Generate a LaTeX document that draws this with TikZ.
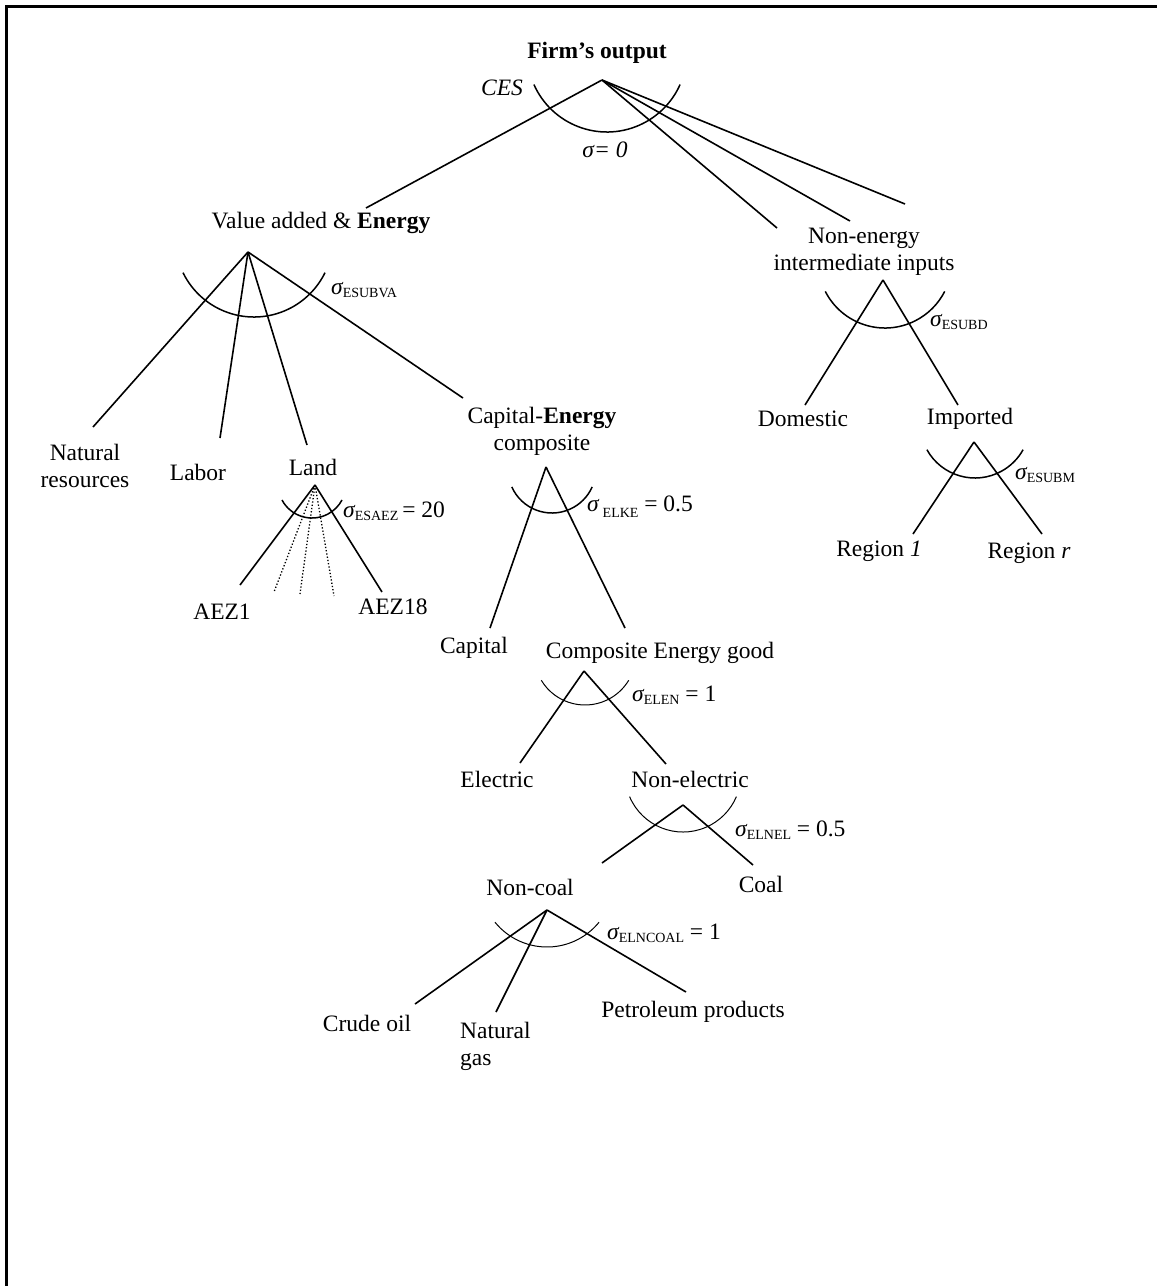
\documentclass[tikz,border=0pt]{standalone}
\usepackage{fontspec}
\setmainfont{Liberation Serif}
\tikzset{
  lbl/.style={inner sep=0pt, font=\fontsize{23.5}{27}\selectfont, align=center},
  sglbl/.style={inner sep=0pt, anchor=west, font=\fontsize{23.5}{27}\selectfont},
  br/.style={line width=1.6pt},
  cesarcst/.style={line width=1.5pt},
  thinarc/.style={line width=1pt},
  dotbr/.style={dotted, line width=1.3pt}
}
\newcommand\sg[1]{{\itshape σ}\raisebox{-0.3ex}{\fontsize{14}{14}\selectfont #1}}
\newcommand\cesarc[5][cesarcst]{\draw[#1] ([shift={(#4:#3pt)}]#2) arc[start angle=#4,end angle=#5,radius=#3pt];}
\begin{document}
\begin{tikzpicture}[x=1pt,y=-1pt]
\useasboundingbox (0,0) rectangle (1157,1286);
\draw[line width=2.5pt] (6.5,1286) -- (6.5,6.5) -- (1157,6.5);

% top level
\node[lbl,font=\fontsize{23.5}{27}\selectfont\bfseries] (firm) at (597,53) {Firm’s output};
\coordinate (firmA) at (602,80);
\node[lbl,font=\fontsize{23.5}{27}\selectfont\itshape] (ces) at (502,88) {CES};
\cesarc{607,52}{80}{204}{336}
\node[lbl,font=\fontsize{23.5}{27}\selectfont\itshape] (sig0) at (605,150) {σ= 0};

\node[lbl] (va) at (321,223) {Value added \& \textbf{Energy}};
\coordinate (vaT) at (366,208);
\node[lbl] (nei) at (864,252) {Non-energy\\intermediate inputs};
\coordinate (neiT1) at (777,228);
\coordinate (neiT2) at (850,221);
\coordinate (neiT3) at (905,204);
\draw[br] (firmA) -- (vaT);
\draw[br] (firmA) -- (neiT1);
\draw[br] (firmA) -- (neiT2);
\draw[br] (firmA) -- (neiT3);

% value added
\coordinate (vaA) at (248,252);
\cesarc{254,238}{79}{206}{334}
\node[sglbl] (sgva) at (331,290) {\sg{ESUBVA}};
\node[lbl] (nr) at (85,466) {Natural\\resources};
\node[lbl] (labor) at (198,472) {Labor};
\node[lbl] (land) at (313,467) {Land};
\node[lbl] (ce) at (542,431) {Capital-\textbf{Energy}\\composite};
\coordinate (nrT) at (93,427);
\coordinate (laborT) at (220,438);
\coordinate (landT) at (307,445);
\coordinate (ceT) at (463,398);
\draw[br] (vaA) -- (nrT);
\draw[br] (vaA) -- (laborT);
\draw[br] (vaA) -- (landT);
\draw[br] (vaA) -- (ceT);

% land
\coordinate (landA) at (315,485);
\cesarc{312,484}{34}{208}{332}
\node[sglbl] (sgaez) at (343,511) {\sg{ESAEZ}\,= 20};
\coordinate (aez1T) at (240,585);
\coordinate (aez18T) at (382,592);
\coordinate (d1) at (274,592);
\coordinate (d2) at (300,594);
\coordinate (d3) at (334,596);
\draw[br] (landA) -- (aez1T);
\draw[br] (landA) -- (aez18T);
\draw[dotbr] (landA) -- (d1);
\draw[dotbr] (landA) -- (d2);
\draw[dotbr] (landA) -- (d3);
\node[lbl] (aez1) at (222,612) {AEZ1};
\node[lbl] (aez18) at (393,607) {AEZ18};

% capital-energy
\coordinate (ceA) at (546,467);
\cesarc{552,469}{44}{204}{336}
\node[sglbl] (sgelke) at (587,507) {{\itshape σ}\,\raisebox{-0.55ex}{\fontsize{14}{14}\selectfont ELKE} = 0.5};
\coordinate (capT) at (490,628);
\coordinate (cegT) at (625,628);
\draw[br] (ceA) -- (capT);
\draw[br] (ceA) -- (cegT);
\node[lbl] (capital) at (474,648) {Capital};
\node[lbl] (ceg) at (660,653) {Composite Energy good};

% composite energy good
\coordinate (cegA) at (584,671);
\cesarc[thinarc]{585,654}{51}{211}{329}
\node[sglbl] (sgelen) at (632,695) {\sg{ELEN} = 1};
\coordinate (elT) at (520,763);
\coordinate (nelT) at (666,764);
\draw[br] (cegA) -- (elT);
\draw[br] (cegA) -- (nelT);
\node[lbl] (electric) at (497,779) {Electric};
\node[lbl] (nonel) at (690,779) {Non-electric};

% non-electric
\coordinate (neA) at (683,805);
\cesarc[thinarc]{683,774}{58}{203}{337}
\node[sglbl] (sgelnel) at (735,830) {\sg{ELNEL} = 0.5};
\coordinate (ncT) at (602,863);
\coordinate (coalT) at (753,865);
\draw[br] (neA) -- (ncT);
\draw[br] (neA) -- (coalT);
\node[lbl] (noncoal) at (530,887) {Non-coal};
\node[lbl] (coal) at (761,884) {Coal};

% non-coal
\coordinate (ncA) at (547,910);
\cesarc[thinarc]{547,880}{67}{219}{321}
\node[sglbl] (sgelncoal) at (607,933) {\sg{ELNCOAL} = 1};
\coordinate (crT) at (415,1004);
\coordinate (ngT) at (496,1012);
\coordinate (ppT) at (686,992);
\draw[br] (ncA) -- (crT);
\draw[br] (ncA) -- (ngT);
\draw[br] (ncA) -- (ppT);
\node[lbl] (crude) at (367,1023) {Crude oil};
\node[lbl,anchor=west,align=left] (natgas) at (460,1046) {Natural\\gas};
\node[lbl] (petro) at (693,1012) {Petroleum products};

% non-energy intermediate
\coordinate (neiA) at (883,280);
\cesarc{885,261}{67}{207}{333}
\node[sglbl] (sgsubd) at (930,322) {\sg{ESUBD}};
\coordinate (domT) at (805,405);
\coordinate (impT) at (958,405);
\draw[br] (neiA) -- (domT);
\draw[br] (neiA) -- (impT);
\node[lbl] (domestic) at (803,419) {Domestic};
\node[lbl] (imported) at (970,419) {Imported};

% imported
\coordinate (impA) at (974,442);
\cesarc{975,423}{55}{209}{331}
\node[sglbl] (sgsubm) at (1015,475) {\sg{ESUBM}};
\coordinate (r1T) at (913,534);
\coordinate (rrT) at (1042,534);
\draw[br] (impA) -- (r1T);
\draw[br] (impA) -- (rrT);
\node[lbl] (region1) at (879,551) {Region \textit{1}};
\node[lbl] (regionr) at (1029,553) {Region \textit{r}};
\end{tikzpicture}
\end{document}
